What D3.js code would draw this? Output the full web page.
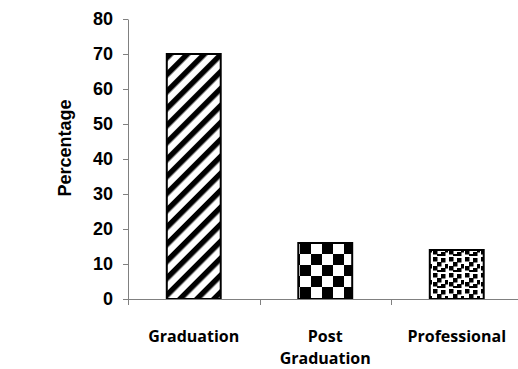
<!DOCTYPE html>
<html>
<head>
<meta charset="utf-8">
<script src="https://cdn.jsdelivr.net/npm/d3@7"></script>
<style>
  html, body { margin: 0; padding: 0; background: #fff; }
  svg { display: block; }
</style>
</head>
<body>
<svg id="chart" width="518" height="369"></svg>
<script>
const categories = ["Graduation", "Post Graduation", "Professional"];
const categoryLines = [["Graduation"], ["Post", "Graduation"], ["Professional"]];
const values = [70, 16, 14];
const yTicks = [0, 10, 20, 30, 40, 50, 60, 70, 80];
const yLabel = "Percentage";
const patterns = ["stripes", "checker", "dots"];

(function () {
const svg = d3.select("#chart");
const W = 518, H = 369;
const mLeft = 128, mTop = 19, mBottom = 299, mRight = 522.5;

const defs = svg.append("defs");
// diagonal stripes
const ps = defs.append("pattern").attr("id", "stripes").attr("patternUnits", "userSpaceOnUse")
  .attr("width", 12).attr("height", 12).attr("patternTransform", "rotate(45)");
ps.append("rect").attr("width", 12).attr("height", 12).attr("fill", "#fff");
ps.append("rect").attr("x", 0).attr("y", 0).attr("width", 5.5).attr("height", 12).attr("fill", "#000");
// checkerboard
const pc = defs.append("pattern").attr("id", "checker").attr("patternUnits", "userSpaceOnUse")
  .attr("width", 22).attr("height", 22).attr("x", 300).attr("y", 243);
pc.append("rect").attr("width", 22).attr("height", 22).attr("fill", "#fff");
pc.append("rect").attr("x", 0).attr("y", 0).attr("width", 11).attr("height", 11).attr("fill", "#000");
pc.append("rect").attr("x", 11).attr("y", 11).attr("width", 11).attr("height", 11).attr("fill", "#000");
// dots
const pd = defs.append("pattern").attr("id", "dots").attr("patternUnits", "userSpaceOnUse")
  .attr("width", 16).attr("height", 16);
pd.append("rect").attr("width", 16).attr("height", 16).attr("fill", "#fff");
[[1,1],[9,2],[5,6],[13,8],[1,10],[9,12],[5,14]].forEach(([px,py]) => {
  pd.append("rect").attr("x", px).attr("y", py).attr("width", 4.5).attr("height", 4.5).attr("fill", "#000");
});

const x = d3.scaleBand().domain(categories).range([mLeft, mRight]).paddingInner(0.59).paddingOuter(0.295);
const y = d3.scaleLinear().domain([0, 80]).range([mBottom, mTop]);

// bars
svg.append("g").selectAll("rect").data(values).join("rect")
  .attr("x", (d, i) => x(categories[i]))
  .attr("y", d => y(d))
  .attr("width", x.bandwidth())
  .attr("height", d => y(0) - y(d))
  .attr("fill", (d, i) => `url(#${patterns[i]})`)
  .attr("stroke", "#000")
  .attr("stroke-width", 2);

// y axis
const yAxis = svg.append("g").attr("transform", `translate(${mLeft},0)`)
  .call(d3.axisLeft(y).tickValues(yTicks).tickSize(5).tickPadding(10).tickSizeOuter(0));
yAxis.select(".domain").attr("stroke", "#808080");
yAxis.selectAll(".tick line").attr("stroke", "#808080");
yAxis.selectAll(".tick text").attr("font-family", "Liberation Sans, Arial, sans-serif")
  .attr("font-size", 18).attr("font-weight", "bold").attr("fill", "#000");

// x axis
const step = x.step();
svg.append("line").attr("x1", mLeft).attr("x2", W).attr("y1", mBottom + 0.5).attr("y2", mBottom + 0.5)
  .attr("stroke", "#808080");
svg.append("g").selectAll("line").data(d3.range(categories.length + 1)).join("line")
  .attr("x1", i => Math.round(mLeft + i * step) + 0.5).attr("x2", i => Math.round(mLeft + i * step) + 0.5)
  .attr("y1", mBottom).attr("y2", mBottom + 6).attr("stroke", "#808080");

// x labels
const xl = svg.append("g");
categoryLines.forEach((lines, i) => {
  const cx = x(categories[i]) + x.bandwidth() / 2;
  lines.forEach((l, j) => xl.append("text").attr("x", cx).attr("y", 342 + j * 22)
    .attr("text-anchor", "middle")
    .attr("font-family", "Open Sans, sans-serif").attr("font-size", 16).attr("font-weight", "bold")
    .text(l));
});

// y label
svg.append("text").attr("transform", "translate(71,148) rotate(-90)")
  .attr("text-anchor", "middle")
  .attr("font-family", "Liberation Sans, Arial, sans-serif").attr("font-size", 18).attr("font-weight", "bold")
  .text(yLabel);
})();
</script>
</body>
</html>
